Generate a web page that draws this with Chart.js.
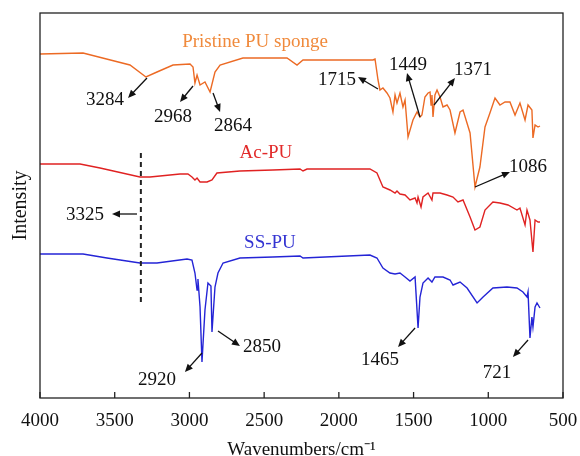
<!DOCTYPE html>
<html>
<head>
<meta charset="utf-8">
<script src="https://cdn.jsdelivr.net/npm/chart.js@4.4.1/dist/chart.umd.min.js"></script>
<style>
  html, body { margin: 0; padding: 0; background: #fff; }
  #wrap { width: 580px; height: 456px; }
</style>
</head>
<body>
<div id="wrap"><canvas id="myChart" width="580" height="456"></canvas></div>
<script>

// wavenumber (cm-1) / intensity (arbitrary, offset per curve)
const pristineWn = [4000, 3712, 3398, 3291, 3217, 3110, 2996, 2976, 2963, 2949, 2929, 2896, 2862, 2829, 2795, 2642, 2347, 2280, 2240, 2039, 1772, 1758, 1738, 1725, 1705, 1678, 1658, 1638, 1624, 1611, 1591, 1571, 1557, 1537, 1504, 1477, 1457, 1444, 1424, 1403, 1390, 1383, 1377, 1370, 1357, 1343, 1323, 1303, 1276, 1256, 1223, 1189, 1169, 1122, 1089, 1056, 1022, 989, 955, 922, 888, 855, 821, 788, 754, 734, 708, 701, 687, 667, 654]
const pristineI = [344, 345, 333, 321, 326, 333, 334, 331, 315, 323, 313, 316, 306, 326, 333, 340, 340, 333, 338, 338, 338, 339, 318, 308, 310, 305, 300, 286, 303, 295, 305, 291, 298, 261, 278, 286, 281, 283, 301, 305, 306, 293, 303, 281, 303, 308, 301, 291, 293, 288, 265, 286, 288, 265, 211, 231, 271, 285, 300, 293, 296, 296, 283, 295, 278, 293, 288, 260, 273, 271, 272]

const acWn = [4000, 3732, 3598, 3331, 3264, 3063, 3010, 2983, 2963, 2949, 2929, 2882, 2849, 2816, 2662, 2441, 2260, 2240, 2213, 1792, 1745, 1705, 1658, 1624, 1611, 1591, 1557, 1524, 1490, 1477, 1470, 1450, 1437, 1403, 1377, 1370, 1323, 1276, 1236, 1203, 1169, 1122, 1089, 1056, 1022, 969, 922, 868, 808, 788, 754, 741, 721, 701, 687, 667, 654]
const acI = [234, 234, 230, 221, 221, 224, 224, 221, 218, 220, 216, 216, 218, 225, 227, 228, 229, 227, 229, 229, 225, 211, 208, 205, 207, 204, 203, 198, 200, 195, 201, 191, 201, 205, 198, 205, 205, 203, 201, 196, 198, 181, 168, 171, 188, 196, 195, 193, 188, 190, 173, 188, 178, 146, 178, 176, 176]

const ssWn = [4000, 3712, 3552, 3331, 3217, 3016, 2983, 2963, 2949, 2943, 2929, 2916, 2896, 2876, 2856, 2849, 2829, 2809, 2775, 2662, 2441, 2260, 2240, 1792, 1745, 1705, 1658, 1624, 1591, 1557, 1524, 1490, 1470, 1457, 1437, 1403, 1377, 1357, 1303, 1256, 1236, 1189, 1142, 1075, 1035, 969, 875, 808, 768, 741, 734, 721, 708, 701, 687, 674, 654]
const ssI = [144, 144, 140, 135, 135, 139, 138, 125, 108, 119, 91, 36, 88, 115, 112, 66, 111, 125, 135, 140, 141, 142, 140, 143, 140, 130, 125, 124, 125, 121, 117, 121, 70, 101, 115, 120, 116, 121, 121, 118, 113, 116, 110, 95, 101, 110, 111, 110, 106, 101, 106, 60, 81, 71, 91, 95, 90]

const xTicks = [4000, 3500, 3000, 2500, 2000, 1500, 1000, 500]

// curve names: text, [wn, y]
const seriesLabels = [
    { text: 'Pristine PU sponge', at: [2561, 356], color: '#F08A3C' },
    { text: 'Ac-PU', at: [2488, 245], color: '#E22A2A' },
    { text: 'SS-PU', at: [2461, 155], color: '#3434D2' }
]

// peak labels: text position, arrow from peak to label
const peakLabels = [
    { text: '3284', at: [3565, 298], from: [3284, 320], to: [3411, 300] },
    { text: '2968', at: [3110, 281], from: [2976, 312], to: [3063, 296] },
    { text: '2864', at: [2708, 272], from: [2842, 305], to: [2795, 286] },
    { text: '1715', at: [2012, 318], from: [1738, 309], to: [1872, 321] },
    { text: '1449', at: [1537, 333], from: [1457, 281], to: [1544, 325] },
    { text: '1371', at: [1102, 328], from: [1363, 293], to: [1223, 320] },
    { text: '1086', at: [734, 231], from: [1089, 211], to: [855, 226] },
    { text: '3325', at: [3699, 183], from: [3351, 184], to: [3518, 184] },
    { text: '2920', at: [3217, 18], from: [2916, 45], to: [3030, 26] },
    { text: '2850', at: [2514, 51], from: [2809, 67], to: [2662, 52] },
    { text: '1465', at: [1725, 38], from: [1490, 70], to: [1604, 51] },
    { text: '721', at: [942, 25], from: [734, 58], to: [835, 41] }
]

const dashedWn = 3325
const dashedRange = [95, 245]

const toXY = (wn, val) => wn.map((w, i) => ({ x: w, y: val[i] }))

const FONT = "'Liberation Serif', 'Times New Roman', serif"

const annotations = {
    id: 'annotations',
    afterDatasetsDraw(chart) {
        const ctx = chart.ctx
        const xs = chart.scales.x
        const ys = chart.scales.y
        const px = p => [xs.getPixelForValue(p[0]), ys.getPixelForValue(p[1])]
        const a = chart.chartArea
        ctx.save()

        // box frame
        ctx.strokeStyle = '#222'
        ctx.lineWidth = 1.3
        ctx.strokeRect(a.left, a.top, a.right - a.left, a.bottom - a.top)

        // inward ticks
        xs.ticks.forEach(t => {
            const x = xs.getPixelForValue(t.value)
            ctx.beginPath()
            ctx.moveTo(x, a.bottom)
            ctx.lineTo(x, a.bottom - 6)
            ctx.stroke()
        })

        // dashed marker line
        ctx.setLineDash([5, 4])
        ctx.lineWidth = 2
        const [dx, dy1] = px([dashedWn, dashedRange[1]])
        const dy2 = ys.getPixelForValue(dashedRange[0])
        ctx.beginPath()
        ctx.moveTo(dx, dy1)
        ctx.lineTo(dx, dy2)
        ctx.stroke()
        ctx.setLineDash([])

        ctx.textAlign = 'center'
        ctx.textBaseline = 'middle'

        seriesLabels.forEach(s => {
            const [x, y] = px(s.at)
            ctx.fillStyle = s.color
            ctx.font = '19px ' + FONT
            ctx.fillText(s.text, x, y)
        })

        ctx.fillStyle = '#111'
        ctx.strokeStyle = '#111'
        ctx.lineWidth = 1.3
        peakLabels.forEach(p => {
            const [tx, ty] = px(p.at)
            ctx.font = '19px ' + FONT
            ctx.fillText(p.text, tx, ty)
            const [x1, y1] = px(p.from)
            const [x2, y2] = px(p.to)
            const ang = Math.atan2(y2 - y1, x2 - x1)
            const hl = 8, hw = 3.5
            ctx.beginPath()
            ctx.moveTo(x1, y1)
            ctx.lineTo(x2 - Math.cos(ang) * hl * 0.6, y2 - Math.sin(ang) * hl * 0.6)
            ctx.stroke()
            ctx.beginPath()
            ctx.moveTo(x2, y2)
            ctx.lineTo(x2 - Math.cos(ang) * hl - Math.sin(ang) * hw, y2 - Math.sin(ang) * hl + Math.cos(ang) * hw)
            ctx.lineTo(x2 - Math.cos(ang) * hl + Math.sin(ang) * hw, y2 - Math.sin(ang) * hl - Math.cos(ang) * hw)
            ctx.closePath()
            ctx.fill()
        })
        ctx.restore()
    }
}

const ctx = document.getElementById('myChart')
const myChart = new Chart(ctx, {
    type: 'line',
    data: {
        datasets: [
            { label: 'Pristine PU sponge', data: toXY(pristineWn, pristineI), borderColor: '#EC6A24', borderWidth: 1.4 },
            { label: 'Ac-PU', data: toXY(acWn, acI), borderColor: '#E02222', borderWidth: 1.4 },
            { label: 'SS-PU', data: toXY(ssWn, ssI), borderColor: '#2424D6', borderWidth: 1.4 }
        ]
    },
    options: {
        responsive: false,
        animation: false,
        layout: { padding: { top: 13, right: 17, left: 0, bottom: 0 } },
        elements: { point: { radius: 0 }, line: { tension: 0 } },
        plugins: { legend: { display: false }, tooltip: { enabled: false } },
        scales: {
            x: {
                type: 'linear',
                reverse: true,
                min: 500,
                max: 4000,
                afterBuildTicks: s => { s.ticks = xTicks.map(v => ({ value: v })) },
                afterFit: s => { s.height = 58; s.paddingLeft = 0; s.paddingRight = 0 },
                grid: { display: false },
                border: { display: false },
                ticks: { color: '#111', padding: 4, maxRotation: 0, font: { family: FONT, size: 19 }, callback: v => String(v) },
                title: { display: true, text: 'Wavenumbers/cm\u207B\u00B9', color: '#111', padding: { top: 8, bottom: -5 }, font: { family: FONT, size: 19 } }
            },
            y: {
                min: 0,
                max: 385,
                afterFit: s => { s.width = 40 },
                grid: { display: false },
                border: { display: false },
                ticks: { display: false },
                title: { display: true, text: 'Intensity', color: '#111', padding: { top: 9, bottom: 0 }, font: { family: FONT, size: 20 } }
            }
        }
    },
    plugins: [annotations]
})
</script>
</body>
</html>
